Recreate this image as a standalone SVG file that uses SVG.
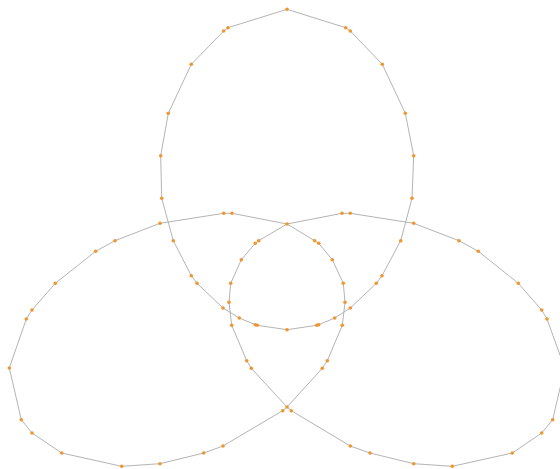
<svg xmlns="http://www.w3.org/2000/svg" width="560" height="469" viewBox="0 0 560 469">
<style>
.e{fill:none;stroke:#b4b4b4;stroke-width:1;stroke-linejoin:round}
.n{fill:#f0962d}
</style>
<rect width="560" height="469" fill="#fff"/>
<g id="connectors">
<polyline class="e" points="287,9.3 228,27.7 223.7,31 191.3,64.3 168.3,113.3 160.7,155.7 161.7,198.3 173.3,240.7 191.3,275.7 197,283.3 223,308 239.3,318 255.3,324.7 257.3,325.3 287,329.7 316.7,325.3 318.7,324.7 334.7,318 350.3,308 376.3,283.3 382,275.7 400.7,240.7 412,198.3 413.7,155.7 405.3,113.3 382.3,64.3 350.3,31 345.7,27.7 287,9.3"/>
<polyline class="e" points="287,224 232,213.3 223.7,213.3 160,223.3 115,240.7 95.7,251.3 55.3,283.3 32,310 26.3,319 9.3,368 21.3,419.7 32,433 61.7,453 121.7,466.3 160,463.7 203.7,453 223,446 282.7,410.7 287,407 322.3,368.3 327.3,360.7 342.3,325.3 345,302.3 343.3,283.3 332.3,259.7 318.7,243.3 314.7,240.7 287,224"/>
<polyline class="e" points="287,224 342,213.3 350.3,213.3 413.7,223.3 459,240.7 478.3,251.3 518.3,283.3 541.7,310 547,319 564.7,368 552.7,419.7 541.7,433 512.3,453 452.3,466.3 413.7,463.7 370,453 350.3,446 291.3,410.7 287,407 251.3,368.3 246.7,360.7 231.7,325.3 229,302.3 230.7,283.3 241.3,259.7 255.3,243.3 258.7,240.7 287,224"/>
</g>
<g id="nodes">
<circle class="n" cx="287" cy="9.3" r="1.8"/>
<circle class="n" cx="228" cy="27.7" r="1.8"/>
<circle class="n" cx="223.7" cy="31" r="1.8"/>
<circle class="n" cx="191.3" cy="64.3" r="1.8"/>
<circle class="n" cx="168.3" cy="113.3" r="1.8"/>
<circle class="n" cx="160.7" cy="155.7" r="1.8"/>
<circle class="n" cx="161.7" cy="198.3" r="1.8"/>
<circle class="n" cx="173.3" cy="240.7" r="1.8"/>
<circle class="n" cx="191.3" cy="275.7" r="1.8"/>
<circle class="n" cx="197" cy="283.3" r="1.8"/>
<circle class="n" cx="223" cy="308" r="1.8"/>
<circle class="n" cx="239.3" cy="318" r="1.8"/>
<circle class="n" cx="255.3" cy="324.7" r="1.8"/>
<circle class="n" cx="257.3" cy="325.3" r="1.8"/>
<circle class="n" cx="287" cy="329.7" r="1.8"/>
<circle class="n" cx="316.7" cy="325.3" r="1.8"/>
<circle class="n" cx="318.7" cy="324.7" r="1.8"/>
<circle class="n" cx="334.7" cy="318" r="1.8"/>
<circle class="n" cx="350.3" cy="308" r="1.8"/>
<circle class="n" cx="376.3" cy="283.3" r="1.8"/>
<circle class="n" cx="382" cy="275.7" r="1.8"/>
<circle class="n" cx="400.7" cy="240.7" r="1.8"/>
<circle class="n" cx="412" cy="198.3" r="1.8"/>
<circle class="n" cx="413.7" cy="155.7" r="1.8"/>
<circle class="n" cx="405.3" cy="113.3" r="1.8"/>
<circle class="n" cx="382.3" cy="64.3" r="1.8"/>
<circle class="n" cx="350.3" cy="31" r="1.8"/>
<circle class="n" cx="345.7" cy="27.7" r="1.8"/>
<circle class="n" cx="287" cy="224" r="1.8"/>
<circle class="n" cx="232" cy="213.3" r="1.8"/>
<circle class="n" cx="223.7" cy="213.3" r="1.8"/>
<circle class="n" cx="160" cy="223.3" r="1.8"/>
<circle class="n" cx="115" cy="240.7" r="1.8"/>
<circle class="n" cx="95.7" cy="251.3" r="1.8"/>
<circle class="n" cx="55.3" cy="283.3" r="1.8"/>
<circle class="n" cx="32" cy="310" r="1.8"/>
<circle class="n" cx="26.3" cy="319" r="1.8"/>
<circle class="n" cx="9.3" cy="368" r="1.8"/>
<circle class="n" cx="21.3" cy="419.7" r="1.8"/>
<circle class="n" cx="32" cy="433" r="1.8"/>
<circle class="n" cx="61.7" cy="453" r="1.8"/>
<circle class="n" cx="121.7" cy="466.3" r="1.8"/>
<circle class="n" cx="160" cy="463.7" r="1.8"/>
<circle class="n" cx="203.7" cy="453" r="1.8"/>
<circle class="n" cx="223" cy="446" r="1.8"/>
<circle class="n" cx="282.7" cy="410.7" r="1.8"/>
<circle class="n" cx="287" cy="407" r="1.8"/>
<circle class="n" cx="322.3" cy="368.3" r="1.8"/>
<circle class="n" cx="327.3" cy="360.7" r="1.8"/>
<circle class="n" cx="342.3" cy="325.3" r="1.8"/>
<circle class="n" cx="345" cy="302.3" r="1.8"/>
<circle class="n" cx="343.3" cy="283.3" r="1.8"/>
<circle class="n" cx="332.3" cy="259.7" r="1.8"/>
<circle class="n" cx="318.7" cy="243.3" r="1.8"/>
<circle class="n" cx="314.7" cy="240.7" r="1.8"/>
<circle class="n" cx="342" cy="213.3" r="1.8"/>
<circle class="n" cx="350.3" cy="213.3" r="1.8"/>
<circle class="n" cx="413.7" cy="223.3" r="1.8"/>
<circle class="n" cx="459" cy="240.7" r="1.8"/>
<circle class="n" cx="478.3" cy="251.3" r="1.8"/>
<circle class="n" cx="518.3" cy="283.3" r="1.8"/>
<circle class="n" cx="541.7" cy="310" r="1.8"/>
<circle class="n" cx="547" cy="319" r="1.8"/>
<circle class="n" cx="564.7" cy="368" r="1.8"/>
<circle class="n" cx="552.7" cy="419.7" r="1.8"/>
<circle class="n" cx="541.7" cy="433" r="1.8"/>
<circle class="n" cx="512.3" cy="453" r="1.8"/>
<circle class="n" cx="452.3" cy="466.3" r="1.8"/>
<circle class="n" cx="413.7" cy="463.7" r="1.8"/>
<circle class="n" cx="370" cy="453" r="1.8"/>
<circle class="n" cx="350.3" cy="446" r="1.8"/>
<circle class="n" cx="291.3" cy="410.7" r="1.8"/>
<circle class="n" cx="251.3" cy="368.3" r="1.8"/>
<circle class="n" cx="246.7" cy="360.7" r="1.8"/>
<circle class="n" cx="231.7" cy="325.3" r="1.8"/>
<circle class="n" cx="229" cy="302.3" r="1.8"/>
<circle class="n" cx="230.7" cy="283.3" r="1.8"/>
<circle class="n" cx="241.3" cy="259.7" r="1.8"/>
<circle class="n" cx="255.3" cy="243.3" r="1.8"/>
<circle class="n" cx="258.7" cy="240.7" r="1.8"/>
</g>
</svg>
